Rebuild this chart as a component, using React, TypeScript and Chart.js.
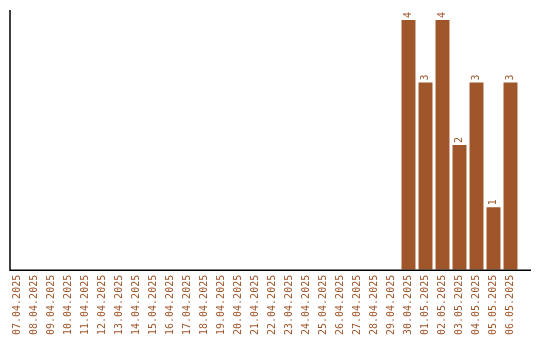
import React, { useEffect, useRef } from "react";
import { Chart, registerables } from "chart.js";

Chart.register(...registerables);

const categories = [
  "07.04.2025", "08.04.2025", "09.04.2025", "10.04.2025", "11.04.2025", "12.04.2025",
  "13.04.2025", "14.04.2025", "15.04.2025", "16.04.2025", "17.04.2025", "18.04.2025",
  "19.04.2025", "20.04.2025", "21.04.2025", "22.04.2025", "23.04.2025", "24.04.2025",
  "25.04.2025", "26.04.2025", "27.04.2025", "28.04.2025", "29.04.2025", "30.04.2025",
  "01.05.2025", "02.05.2025", "03.05.2025", "04.05.2025", "05.05.2025", "06.05.2025",
];
const counts = [
  0, 0, 0, 0, 0, 0, 0, 0, 0, 0, 0, 0, 0, 0, 0, 0, 0, 0, 0, 0, 0, 0, 0,
  4, 3, 4, 2, 3, 1, 3,
];

const BROWN = "#A0562B";
const FONT = "'DejaVu Sans Mono', monospace";

const decorPlugin = {
  id: "decor",
  afterDatasetsDraw(chart: any) {
    const { ctx, chartArea } = chart;
    const meta = chart.getDatasetMeta(0);
    ctx.save();
    ctx.fillStyle = BROWN;
    ctx.font = `10px ${FONT}`;
    ctx.textAlign = "left";
    ctx.textBaseline = "middle";
    meta.data.forEach((bar: any, i: number) => {
      const v = counts[i];
      if (!v) return;
      ctx.save();
      ctx.translate(bar.x, bar.y - 2);
      ctx.rotate(-Math.PI / 2);
      ctx.fillText(String(v), 0, 0);
      ctx.restore();
    });
    ctx.strokeStyle = "#000";
    ctx.lineWidth = 1.5;
    ctx.beginPath();
    ctx.moveTo(chartArea.left + 1, chartArea.top);
    ctx.lineTo(chartArea.left + 1, chartArea.bottom + 0.5);
    ctx.lineTo(chartArea.right + 12, chartArea.bottom + 0.5);
    ctx.stroke();
    ctx.restore();
  },
};

export default function App() {
  const ref = useRef<HTMLCanvasElement>(null);
  useEffect(() => {
    const chart = new Chart(ref.current!, {
      type: "bar",
      data: {
        labels: categories,
        datasets: [
          {
            data: counts,
            backgroundColor: BROWN,
            categoryPercentage: 1,
            barPercentage: 0.82,
          },
        ],
      },
      options: {
        animation: false,
        responsive: false,
        layout: { padding: { left: 9, top: 10, right: 21, bottom: 0 } },
        plugins: { legend: { display: false }, tooltip: { enabled: false } },
        scales: {
          x: {
            grid: { display: false, drawTicks: false },
            border: { display: false },
            ticks: {
              color: BROWN,
              font: { family: FONT, size: 10 },
              minRotation: 90,
              maxRotation: 90,
              autoSkip: false,
              padding: 5,
            },
          },
          y: {
            display: false,
            min: 0,
            max: 4.16,
          },
        },
      },
      plugins: [decorPlugin],
    });
    return () => chart.destroy();
  }, []);
  return (
    <div style={{ position: "fixed", left: 0, top: 0, width: 540, height: 340, background: "#fff" }}>
      <canvas ref={ref} width={540} height={340} />
    </div>
  );
}
